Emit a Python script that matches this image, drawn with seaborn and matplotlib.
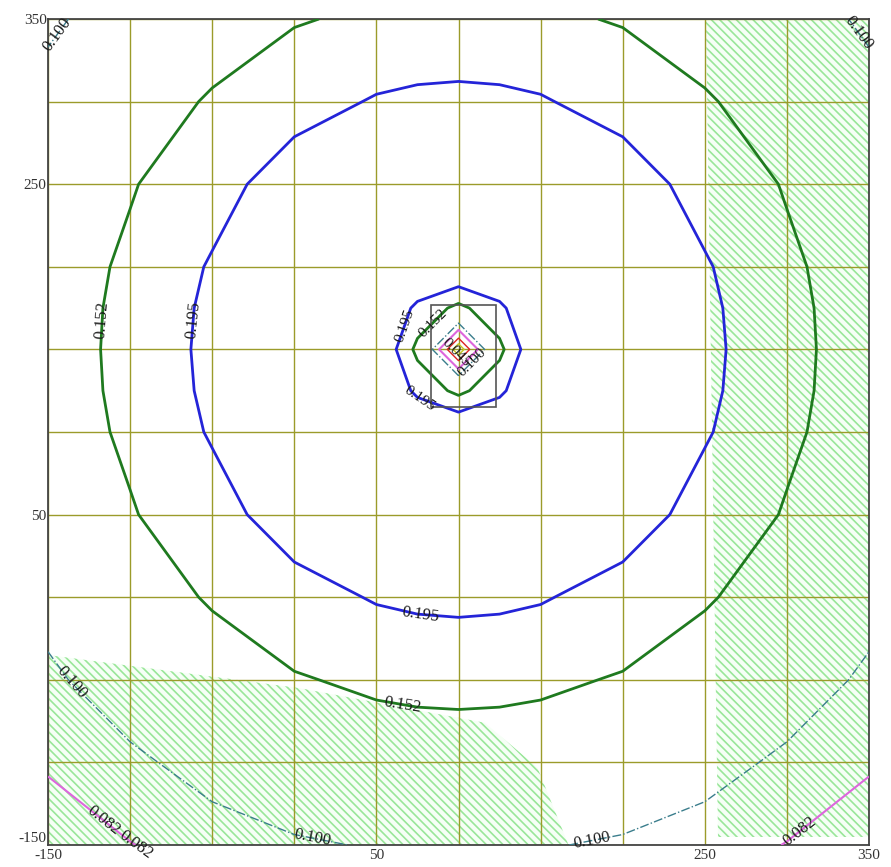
import numpy as np
import seaborn as sns
import matplotlib
matplotlib.use("Agg")
import matplotlib.pyplot as plt
from matplotlib.patches import Rectangle

# grid of the field (x across, y up), centre of the pattern at (100, 150)
x_grid = [-150, -100, -50, 0, 50, 75, 100, 125, 150, 200, 250, 300, 350]
y_grid = [-150, -100, -50, 0, 50, 100, 125, 150, 175, 200, 250, 300, 350]

row_300 = [0.0742, 0.0814, 0.0900, 0.0968, 0.1017, 0.1035, 0.1041, 0.1035, 0.1017, 0.0968, 0.0900, 0.0814, 0.0742]
row_250 = [0.0836, 0.0953, 0.1091, 0.1220, 0.1304, 0.1326, 0.1333, 0.1326, 0.1304, 0.1220, 0.1091, 0.0953, 0.0836]
row_200 = [0.0953, 0.1142, 0.1333, 0.1490, 0.1590, 0.1616, 0.1625, 0.1616, 0.1590, 0.1490, 0.1333, 0.1142, 0.0953]
row_150 = [0.1091, 0.1333, 0.1557, 0.1780, 0.1985, 0.2036, 0.2055, 0.2036, 0.1985, 0.1780, 0.1557, 0.1333, 0.1091]
row_100 = [0.1220, 0.1490, 0.1780, 0.2179, 0.2194, 0.2236, 0.2251, 0.2236, 0.2194, 0.2179, 0.1780, 0.1490, 0.1220]
row_50 = [0.1304, 0.1590, 0.1991, 0.2194, 0.2394, 0.2466, 0.2460, 0.2466, 0.2394, 0.2194, 0.1991, 0.1590, 0.1304]
row_25 = [0.1326, 0.1616, 0.2044, 0.2236, 0.2466, 0.1850, 0.1400, 0.1850, 0.2466, 0.2236, 0.2044, 0.1616, 0.1326]
row_0 = [0.1333, 0.1625, 0.2064, 0.2251, 0.2460, 0.1400, 0.0300, 0.1400, 0.2460, 0.2251, 0.2064, 0.1625, 0.1333]

# rows from y=-150 up to y=350
field = [row_300, row_250, row_200, row_150, row_100, row_50, row_25, row_0,
         row_25, row_50, row_100, row_150, row_200]

levels = [0.045, 0.060, 0.082, 0.100, 0.152, 0.195]
level_colors = ["#c8c820", "#dd2222", "#dd66dd", "#3a7d8c", "#1f7a1f", "#2424d8"]
level_styles = ["solid", "solid", "solid", "dashdot", "solid", "solid"]
level_widths = [1.0, 1.0, 1.5, 1.0, 2.0, 2.0]

# hatched zones
zone_right_x = [251, 350, 350, 258]
zone_right_y = [350, 350, -145, -145]
zone_left_x = [-150, 3, 116, 148, 167, -150]
zone_left_y = [-35, -55, -76, -103, -150, -150]

# small box in the middle
box_x = [83, 123]
box_y = [115, 177]

x_labels = {-150: "-150", 50: "50", 250: "250", 350: "350"}
y_labels = {-150: "-150", 50: "50", 250: "250", 350: "350"}

sns.set_theme(style="white")
plt.rcParams["font.family"] = ["Liberation Serif", "DejaVu Serif"]
plt.rcParams["hatch.linewidth"] = 1.2

fig = plt.figure(figsize=(8.91, 8.67), dpi=100)
ax = fig.add_axes([48 / 891, 22 / 867, 821 / 891, 826 / 867])

for zx, zy in [(zone_right_x, zone_right_y), (zone_left_x, zone_left_y)]:
    ax.fill(zx, zy, facecolor="#f6fff6", edgecolor="#99e699", hatch="\\\\\\\\",
            linewidth=0, zorder=1)

X, Y = np.meshgrid(x_grid, y_grid)
Z = np.array(field)
cs = ax.contour(X, Y, Z, levels=levels, colors=level_colors,
                linestyles=level_styles, linewidths=level_widths, zorder=3)

ax.add_patch(Rectangle((box_x[0], box_y[0]), box_x[1] - box_x[0], box_y[1] - box_y[0],
                       fill=False, edgecolor="#555555", linewidth=1.2, zorder=3))

outer_spots = [(-118, 168), (-65, 168), (77, -5), (67, -59),
               (12, -140), (-132, -48), (180, -140), (-143, 340), (346, 343),
               (-112, -130), (-86, -146), (305, -138)]
inner_spots = [(71, 163), (77, 122), (85, 165), (110, 140), (100, 150)]
labels = []
labels += ax.clabel(cs, levels=levels, manual=outer_spots, inline=False,
                    fmt="%.3f", fontsize=12, colors="#1a1a1a")
labels += ax.clabel(cs, levels=levels, manual=inner_spots, inline=False,
                    fmt="%.3f", fontsize=11, colors="#1a1a1a")
for t in labels:
    t.set_zorder(4)
    t.set_clip_on(False)

ticks = list(range(-150, 351, 50))
ax.set_xticks(ticks)
ax.set_yticks(ticks)
ax.set_xticklabels([x_labels.get(t, "") for t in ticks])
ax.set_yticklabels([y_labels.get(t, "") for t in ticks])
ax.set_xlim(-150, 350)
ax.set_ylim(-150, 350)
ax.tick_params(length=0, labelsize=11, labelcolor="#333333")
ax.tick_params(axis="x", pad=3)
ax.tick_params(axis="y", pad=1)
ax.get_yticklabels()[0].set_va("bottom")
ax.grid(True, color="#9b9b2a", linewidth=1.0)
ax.set_axisbelow("line")
for s in ax.spines.values():
    s.set_color("#444444")
    s.set_linewidth(1.3)

fig.savefig("out.png", dpi=100)
